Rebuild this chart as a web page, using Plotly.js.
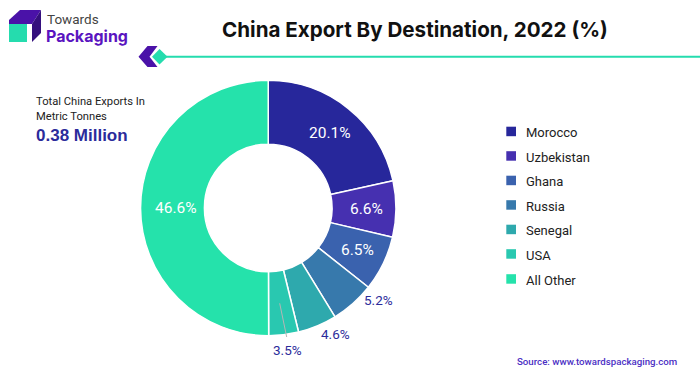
<!DOCTYPE html>
<html><head><meta charset="utf-8">
<script src="https://cdn.plot.ly/plotly-3.0.1.min.js"></script>
<style>html,body{margin:0;padding:0;background:#fff}#c{width:700px;height:375px}</style>
</head><body><div id="c"></div>
<script>
const categories = ["Morocco","Uzbekistan","Ghana","Russia","Senegal","USA","All Other"];
const shares = [20.1,6.6,6.5,5.2,4.6,3.5,46.6];
const sliceColors = ["#27279b","#4630b0","#3a62ae","#3779ac","#2ea9ad","#29c8b0","#25e2ab"];
const W=700,H=375;
const px=x=>x/W, py=y=>1-y/H;
const ink="#2b2b9b";
const labelPos=[[330.3,133.3],[366.7,209],[357.3,250],[378,299.5],[335,333.5],[287,349.5],[176,208.3]];
const labelColors=["#fff","#fff","#fff",ink,ink,ink,"#fff"];
const labelSizes=[15.5,15.5,15.5,13.5,13.5,13.5,15.5];
const legendY=[132.5,157,181.5,206,230.5,255,280];

const shapes=[], annotations=[];
function poly(pts,color){
  const d=pts.map((p,i)=>(i?'L':'M')+px(p[0])+','+py(p[1])).join(' ')+' Z';
  shapes.push({type:'path',xref:'paper',yref:'paper',path:d,fillcolor:color,line:{width:0}});
}
function txt(s,x,y,size,color,anchor,weight,family){
  annotations.push({xref:'paper',yref:'paper',x:px(x),y:py(y),text:s,showarrow:false,xanchor:anchor||'left',yanchor:'middle',
    font:{size:size,color:color,family:family||'Roboto, sans-serif',weight:weight||400},borderpad:0,borderwidth:0});
}
// logo
poly([[9,20],[20,10],[41,10],[32,24],[9,24]],"#4a12a8");
poly([[32,24],[41,10],[41,33],[32,42]],"#35107e");
poly([[9,24],[27,24],[27,42],[9,42]],"#25dcae");
txt("Towards",47,18.5,13.5,"#444");
txt("Packaging",46,36,16,"#5a14c0","left",700,"Inter, sans-serif");
// title rule and marker
shapes.push({type:'line',xref:'paper',yref:'paper',x0:px(165),x1:px(700),y0:py(56.7),y1:py(56.7),line:{color:"#25dcae",width:2}});
poly([[138.5,56.7],[147.5,46],[157.5,46],[149.5,56.7],[157.5,67],[147.5,67]],"#4a12a8");
poly([[152,56.7],[159.5,49],[167.5,56.7],[159.5,64.5]],"#25dcae");
txt("China Export By Destination, 2022 (%)",415.5,29,20.6,"#111","center",700,"Inter, Roboto, sans-serif");
// callout
txt("Total China Exports In",36,101.5,11.2,"#222");
txt("Metric Tonnes",36,116.5,11.2,"#222");
txt("0.38 Million",36,135,17,ink,"left",700,"Liberation Sans, sans-serif");
// legend
categories.forEach((c,i)=>{
  shapes.push({type:'rect',xref:'paper',yref:'paper',x0:px(506.3),x1:px(516),y0:py(legendY[i]-5.8),y1:py(legendY[i]+3.7),fillcolor:sliceColors[i],line:{width:0}});
  txt(c,526,legendY[i],13,"#222");
});
// slice labels
shares.forEach((v,i)=>{
  txt(v.toFixed(1)+"%",labelPos[i][0],labelPos[i][1],labelSizes[i],labelColors[i],"center",400,"Roboto, sans-serif");
});
// leader line
shapes.push({type:'line',xref:'paper',yref:'paper',x0:px(279.7),y0:py(303.3),x1:px(286.7),y1:py(337),line:{color:"#b5b5b5",width:1}});
txt("Source: www.towardspackaging.com",596.5,361.5,9.7,"#4b2fc4","center",500);

Plotly.newPlot('c',[{
  type:'pie',hole:0.5,labels:categories,values:shares,sort:false,direction:'clockwise',rotation:0,
  marker:{colors:sliceColors,line:{color:'#fff',width:1.5}},
  textinfo:'none',hoverinfo:'label+value',
  domain:{x:[px(140.5),px(396)],y:[py(335.7),py(80.3)]},showlegend:false
}],{width:W,height:H,margin:{l:0,r:0,t:0,b:0},paper_bgcolor:'#fff',showlegend:false,shapes:shapes,annotations:annotations},{staticPlot:true,displayModeBar:false});
</script></body></html>
